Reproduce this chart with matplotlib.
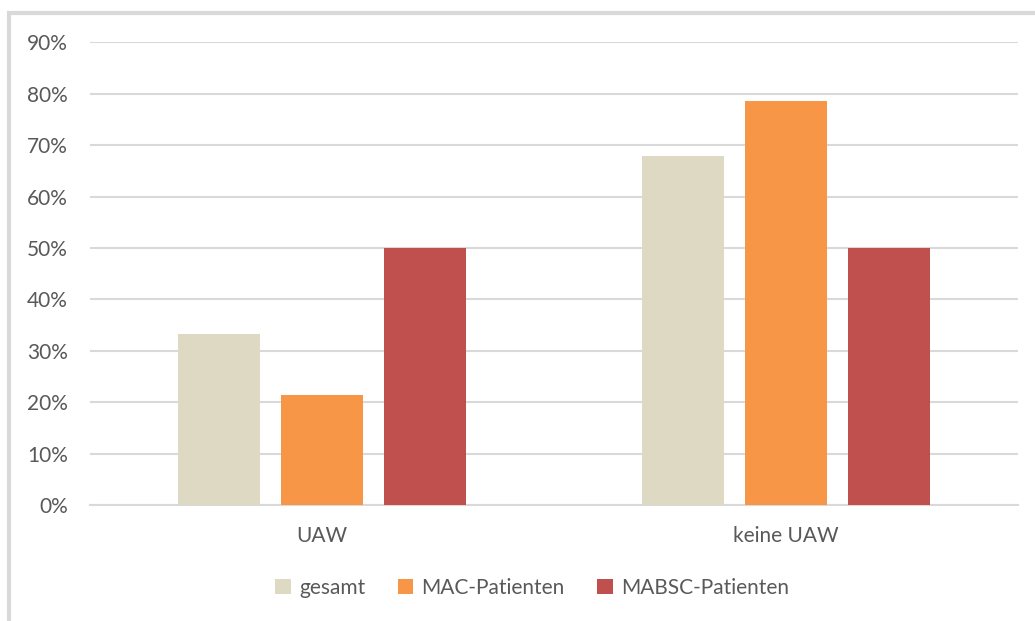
import numpy as np
import matplotlib.pyplot as plt
from matplotlib.patches import Rectangle
from matplotlib.ticker import PercentFormatter

# data
categories = ["UAW", "keine UAW"]
series_names = ["gesamt", "MAC-Patienten", "MABSC-Patienten"]
gesamt = [33.3, 67.9]
mac = [21.4, 78.6]
mabsc = [50.0, 50.0]
colors = ["#DDD9C3", "#F79646", "#C0504D"]

plt.rcParams["font.family"] = ["Lato", "DejaVu Sans"]
text_color = "#595959"
grid_color = "#D9D9D9"

fig = plt.figure(figsize=(10.35, 6.21), dpi=100)
ax = fig.add_axes([0.087, 0.1868, 0.8966, 0.7448])

x = np.arange(len(categories))
width = 0.175
step = 0.222
for i, (vals, name, col) in enumerate(zip([gesamt, mac, mabsc], series_names, colors)):
    ax.bar(x + (i - 1) * step, vals, width, color=col, label=name, zorder=3)

ax.set_xlim(-0.5, 1.5)
ax.set_ylim(0, 90)
ax.set_yticks(np.arange(0, 91, 10))
ax.yaxis.set_major_formatter(PercentFormatter(decimals=0))
ax.set_xticks(x)
ax.set_xticklabels(categories)
ax.grid(axis="y", color=grid_color, linewidth=1.5, zorder=0)
for s in ["top", "right", "left"]:
    ax.spines[s].set_visible(False)
ax.spines["bottom"].set_color(grid_color)
ax.spines["bottom"].set_linewidth(1.5)
ax.tick_params(axis="both", length=0, colors=text_color, labelsize=15)
ax.tick_params(axis="y", pad=16)
ax.tick_params(axis="x", pad=15)

leg = fig.legend(loc="center", bbox_to_anchor=(0.514, 0.053), ncol=3, frameon=False,
                 fontsize=15, handlelength=0.75, handleheight=0.75, handletextpad=0.4,
                 columnspacing=1.55)
for t in leg.get_texts():
    t.set_color(text_color)

# chart frame (only top and left edges are visible in the crop)
fig.patches.append(Rectangle((0.0087, -0.1), 1.2, 1.079, transform=fig.transFigure,
                             fill=False, edgecolor=grid_color, linewidth=3))

fig.savefig("out.png", dpi=100)
